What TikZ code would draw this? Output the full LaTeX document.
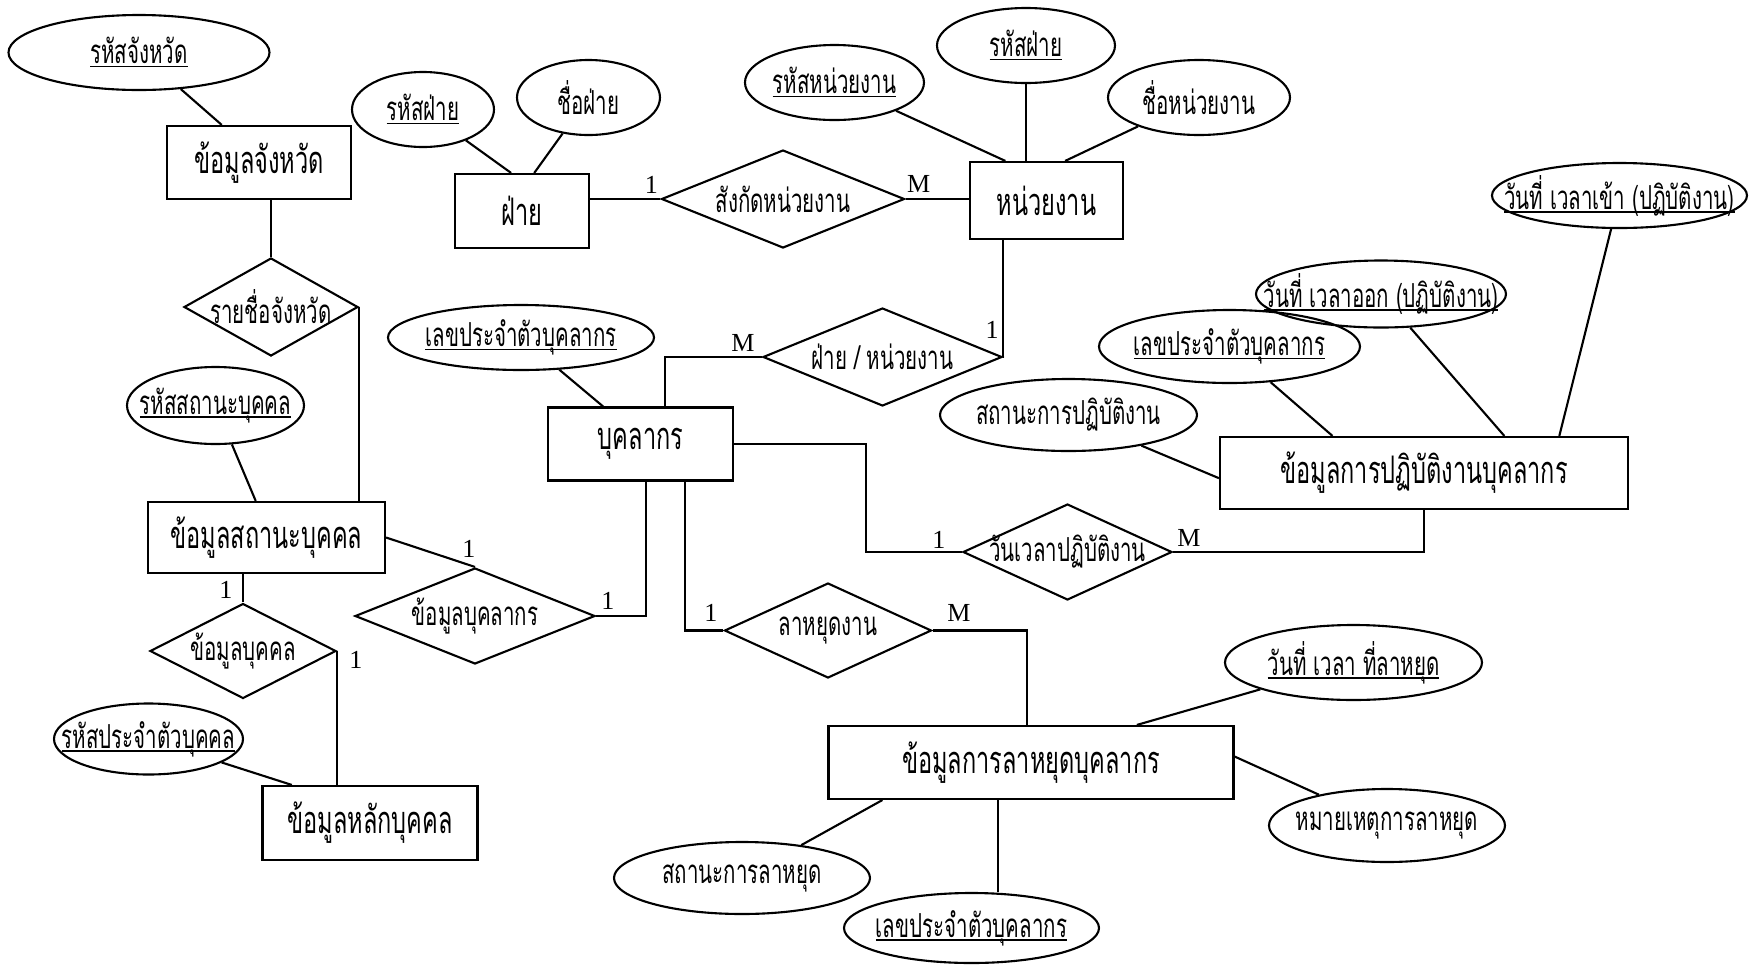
\documentclass[tikz,border=0pt]{standalone}
\usepackage{fontspec}
\usetikzlibrary{shapes.geometric,calc}
\newfontfamily\thaifont[Script=Thai,FakeStretch=0.62]{Loma}
\newfontfamily\cardfont{Liberation Serif}
% text is given zero width so that every shape keeps its own size
\newcommand\ctext[1]{\makebox[0pt]{#1}}
% underline set just below the baseline, as in key attributes
\newsavebox\ulsave
\newcommand\ul[1]{\sbox\ulsave{#1}\rlap{\rule[-1.0pt]{\wd\ulsave}{0.45pt}}\usebox\ulsave}
\tikzset{
  sz/.style 2 args={minimum width=#1*0.01cm, minimum height=#2*0.01cm},
  ent/.style={draw, rectangle, inner sep=0pt, line width=0.6pt, font=\thaifont\fontsize{10.8}{12}\selectfont},
  rel/.style={draw, diamond, aspect=2.2, inner sep=0pt, line width=0.6pt, font=\thaifont\fontsize{9.4}{11}\selectfont},
  attr/.style={draw, ellipse, inner sep=0pt, line width=0.6pt, font=\thaifont\fontsize{9.4}{11}\selectfont},
  card/.style={inner sep=0pt, font=\cardfont\fontsize{7.4}{8}\selectfont},
  conn/.style={line width=0.6pt}
}
\begin{document}
\begin{tikzpicture}[x=0.01cm, y=-0.01cm]
\useasboundingbox (0,0) rectangle (1750,966);

% entities
\node[ent, sz={184}{73}] (ejw) at (259,162.5) {\ctext{ข้อมูลจังหวัด}};
\node[ent, sz={134}{74}] (fai) at (522,211) {\ctext{ฝ่าย}};
\node[ent, sz={153}{77}] (nuay) at (1046.5,200.5) {\ctext{หน่วยงาน}};
\node[ent, sz={185}{73}] (bukk) at (640.5,444) {\ctext{บุคลากร}};
\node[ent, sz={237}{71}] (sts) at (266.5,537.5) {\ctext{ข้อมูลสถานะบุคคล}};
\node[ent, sz={215}{74}] (lak) at (370,823) {\ctext{ข้อมูลหลักบุคคล}};
\node[ent, sz={408}{72}] (pati) at (1424,473) {\ctext{ข้อมูลการปฏิบัติงานบุคลากร}};
\node[ent, sz={405}{73}] (laa) at (1031,762.5) {\ctext{ข้อมูลการลาหยุดบุคลากร}};

% relationships
\node[rel, sz={174}{98}] (rjw) at (271,307) {\ctext{รายชื่อจังหวัด}};
\node[rel, sz={243}{98}] (sangkat) at (783,199) {\ctext{สังกัดหน่วยงาน}};
\node[rel, sz={239}{98}] (fainuay) at (882.5,357) {\ctext{ฝ่าย / หน่วยงาน}};
\node[rel, sz={240}{96}] (khbk) at (475,616) {\ctext{ข้อมูลบุคลากร}};
\node[rel, sz={186}{95}] (khb) at (243,651) {\ctext{ข้อมูลบุคคล}};
\node[rel, sz={209}{96}] (wanwela) at (1067.5,552) {\ctext{วันเวลาปฏิบัติงาน}};
\node[rel, sz={207}{95}] (laayut) at (828,630.5) {\ctext{ลาหยุดงาน}};

% attributes
\node[attr, sz={261}{75}] (a1) at (139,52.5) {\ctext{\ul{รหัสจังหวัด}}};
\node[attr, sz={142}{75}] (a2) at (423,109.5) {\ctext{\ul{รหัสฝ่าย}}};
\node[attr, sz={143}{75}] (a3) at (588.5,97.5) {\ctext{ชื่อฝ่าย}};
\node[attr, sz={179}{75}] (a4) at (834.5,82.5) {\ctext{\ul{รหัสหน่วยงาน}}};
\node[attr, sz={178}{75}] (a5) at (1026,45.5) {\ctext{\ul{รหัสฝ่าย}}};
\node[attr, sz={182}{75}] (a6) at (1199,97.5) {\ctext{ชื่อหน่วยงาน}};
\node[attr, sz={266}{65}] (a7) at (521,337.5) {\ctext{\ul{เลขประจำตัวบุคลากร}}};
\node[attr, sz={177}{77}] (a8) at (215.5,405.5) {\ctext{\ul{รหัสสถานะบุคคล}}};
\node[attr, sz={189}{71}] (a9) at (148.5,739) {\ctext{\ul{รหัสประจำตัวบุคคล}}};
\node[attr, sz={257}{72}] (a10) at (1068.5,415) {\ctext{สถานะการปฏิบัติงาน}};
\node[attr, sz={261}{73}] (a11) at (1229.5,346.5) {\ctext{\ul{เลขประจำตัวบุคลากร}}};
\node[attr, sz={250}{67}] (a12) at (1381,294) {\ctext{\ul{วันที่ เวลาออก (ปฏิบัติงาน)}}};
\node[attr, sz={255}{65}] (a13) at (1619.5,195.5) {\ctext{\ul{วันที่ เวลาเข้า (ปฏิบัติงาน)}}};
\node[attr, sz={257}{75}] (a14) at (1353.5,662.5) {\ctext{\ul{วันที่ เวลา ที่ลาหยุด}}};
\node[attr, sz={236}{73}] (a15) at (1387,825.5) {\ctext{หมายเหตุการลาหยุด}};
\node[attr, sz={256}{72}] (a16) at (742,878) {\ctext{สถานะการลาหยุด}};
\node[attr, sz={255}{70}] (a17) at (971.5,928) {\ctext{\ul{เลขประจำตัวบุคลากร}}};

% attachment points on the entity borders
\coordinate (ejwT) at ($(ejw.north west)!0.30!(ejw.north east)$);
\coordinate (faiTa) at ($(fai.north west)!0.42!(fai.north east)$);
\coordinate (faiTb) at ($(fai.north west)!0.59!(fai.north east)$);
\coordinate (nuayTa) at ($(nuay.north west)!0.235!(nuay.north east)$);
\coordinate (nuayTc) at ($(nuay.north west)!0.62!(nuay.north east)$);
\coordinate (nuayB) at ($(nuay.south west)!0.22!(nuay.south east)$);
\coordinate (bukkT) at ($(bukk.north west)!0.30!(bukk.north east)$);
\coordinate (bukkTr) at ($(bukk.north west)!0.63!(bukk.north east)$);
\coordinate (bukkBa) at ($(bukk.south west)!0.53!(bukk.south east)$);
\coordinate (bukkBb) at ($(bukk.south west)!0.74!(bukk.south east)$);
\coordinate (bw) at (866,500);
\coordinate (stsT) at ($(sts.north west)!0.455!(sts.north east)$);
\coordinate (lakT) at ($(lak.north west)!0.14!(lak.north east)$);
\coordinate (patiL) at ($(pati.north west)!0.57!(pati.south west)$);
\coordinate (patiTa) at ($(pati.north west)!0.277!(pati.north east)$);
\coordinate (patiTb) at ($(pati.north west)!0.696!(pati.north east)$);
\coordinate (patiTc) at ($(pati.north west)!0.83!(pati.north east)$);
\coordinate (laaT) at ($(laa.north west)!0.49!(laa.north east)$);
\coordinate (laaTr) at ($(laa.north west)!0.76!(laa.north east)$);
\coordinate (laaR) at ($(laa.north east)!0.42!(laa.south east)$);
\coordinate (laaBa) at ($(laa.south west)!0.135!(laa.south east)$);
\coordinate (laaBb) at ($(laa.south west)!0.42!(laa.south east)$);

% attribute links
\draw[conn] (a1) -- (ejwT);
\draw[conn] (a2) -- (faiTa);
\draw[conn] (a3) -- (faiTb);
\draw[conn] (a4) -- (nuayTa);
\draw[conn] (a5.south) -- (a5.south |- nuay.north);
\draw[conn] (a6) -- (nuayTc);
\draw[conn] (a7) -- (bukkT);
\draw[conn] (a8) -- (stsT);
\draw[conn] (a9) -- (lakT);
\draw[conn] (a10) -- (patiL);
\draw[conn] (a11) -- (patiTa);
\draw[conn] (a12) -- (patiTb);
\draw[conn] (a13) -- (patiTc);
\draw[conn] (a14) -- (laaTr);
\draw[conn] (a15) -- (laaR);
\draw[conn] (a16) -- (laaBa);
\draw[conn] (laaBb) -- (laaBb |- a17.north);

% relationship links
\draw[conn] (rjw.north) -- (rjw.north |- ejw.south);
\draw[conn] (rjw.east) -- (rjw.east |- sts.north);
\draw[conn] (khb.north) -- (khb.north |- sts.south);
\draw[conn] (khb.east) -- (khb.east |- lak.north);
\draw[conn] (sts.east) -- (khbk.north);
\draw[conn] (khbk.east) -| (bukkBa);
\draw[conn] (laayut.west) -| (bukkBb);
\draw[conn] (fainuay.west) -| (bukkTr);
\draw[conn] (fainuay.east) -| (nuayB);
\draw[conn] (bukk.east) -| (bw) |- (wanwela.west);
\draw[conn] (wanwela.east) -| (pati.south);
\draw[conn] (sangkat.west) -- (sangkat.west -| fai.east);
\draw[conn] (sangkat.east) -- (sangkat.east -| nuay.west);
\draw[conn] (laayut.east) -| (laaT);

% cardinalities
\node[card] (c1) at (651.5,185) {1};
\node[card] (c2) at (918.7,184) {M};
\node[card] (c3) at (743,343) {M};
\node[card] (c4) at (992,330) {1};
\node[card] (c5) at (226,590) {1};
\node[card] (c6) at (356,660) {1};
\node[card] (c7) at (469,549) {1};
\node[card] (c8) at (608,601) {1};
\node[card] (c9) at (711,613) {1};
\node[card] (c10) at (959,613) {M};
\node[card] (c11) at (939,540) {1};
\node[card] (c12) at (1189,538) {M};
\end{tikzpicture}
\end{document}
